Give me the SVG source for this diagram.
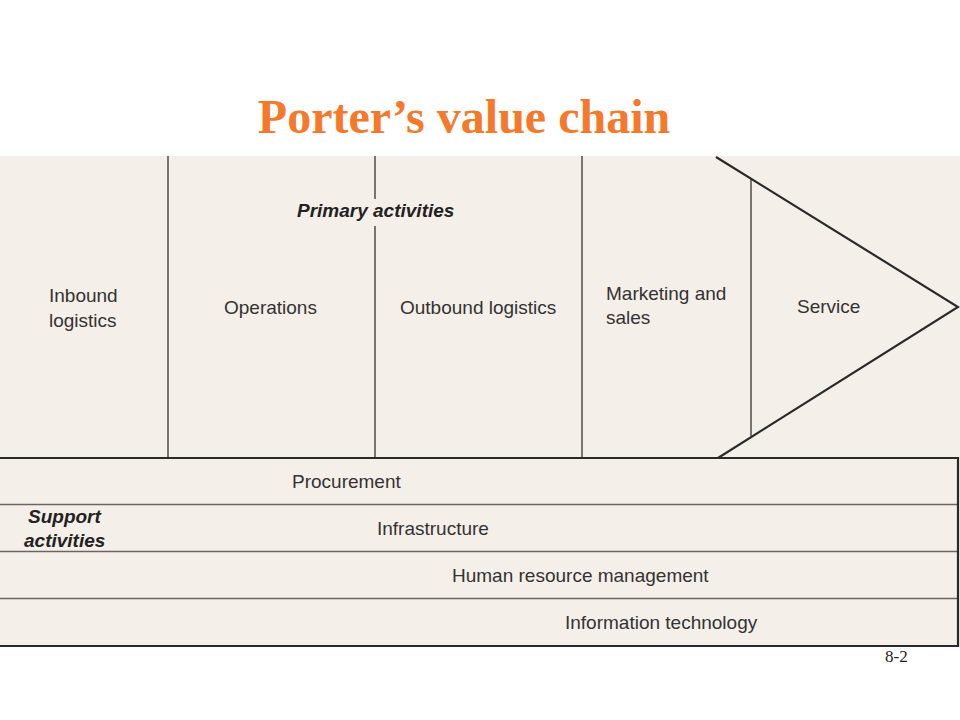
<svg xmlns="http://www.w3.org/2000/svg" width="960" height="720" viewBox="0 0 960 720">
<style>
.bg{fill:#f5efe9}
.div{stroke:#5a5553;stroke-width:1.6;fill:none}
.frame{stroke:#2a2a2a;stroke-width:2.2;fill:none}
.row{stroke:#6a6563;stroke-width:1.6;fill:none}
.lbl{font-family:"Liberation Sans",Arial,sans-serif;font-size:19px;fill:#333}
.bi{font-family:"Liberation Sans",Arial,sans-serif;font-size:19px;font-weight:bold;font-style:italic;fill:#222}
.title{font-family:"Liberation Serif","Times New Roman",serif;font-size:48px;font-weight:bold;fill:#f4792b}
.pg{font-family:"Liberation Serif","Times New Roman",serif;font-size:17px;fill:#222}
</style>
<rect width="960" height="720" fill="#ffffff"/>
<text class="title" x="464" y="133" text-anchor="middle">Porter’s value chain</text>
<rect class="bg" x="0" y="156" width="960" height="491"/>
<g id="connectors">
<line class="div" x1="168" y1="156" x2="168" y2="457"/>
<line class="div" x1="375" y1="156" x2="375" y2="199"/>
<line class="div" x1="375" y1="226" x2="375" y2="457"/>
<line class="div" x1="582" y1="156" x2="582" y2="457"/>
<line class="div" x1="751" y1="178" x2="751" y2="436"/>
<polyline class="frame" points="716,157 958,307 718,458"/>
<line class="row" x1="0" y1="504.5" x2="958" y2="504.5"/>
<line class="row" x1="0" y1="551.5" x2="958" y2="551.5"/>
<line class="row" x1="0" y1="598.5" x2="958" y2="598.5"/>
<polyline class="frame" points="0,458 958,458 958,646 0,646"/>
</g>
<g id="primary-label"><text class="bi" x="297" y="217">Primary activities</text></g>
<g id="inbound"><text class="lbl" x="49" y="302">Inbound</text><text class="lbl" x="49" y="327">logistics</text></g>
<g id="operations"><text class="lbl" x="224" y="314">Operations</text></g>
<g id="outbound"><text class="lbl" x="400" y="314">Outbound logistics</text></g>
<g id="marketing"><text class="lbl" x="606" y="300">Marketing and</text><text class="lbl" x="606" y="324">sales</text></g>
<g id="service"><text class="lbl" x="797" y="313">Service</text></g>
<g id="support-label"><text class="bi" x="28" y="523">Support</text><text class="bi" x="24" y="547">activities</text></g>
<g id="procurement"><text class="lbl" x="292" y="488">Procurement</text></g>
<g id="infrastructure"><text class="lbl" x="377" y="535">Infrastructure</text></g>
<g id="hrm"><text class="lbl" x="452" y="582">Human resource management</text></g>
<g id="it"><text class="lbl" x="565" y="629">Information technology</text></g>
<text class="pg" x="885" y="662">8-2</text>
</svg>
